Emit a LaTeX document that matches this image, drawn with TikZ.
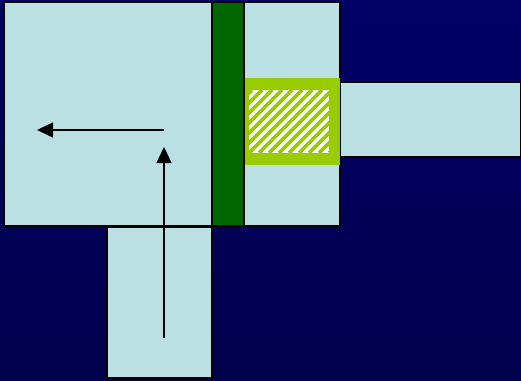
\documentclass[tikz,border=0pt]{standalone}
\usetikzlibrary{arrows.meta}
\definecolor{navytop}{HTML}{000066}
\definecolor{navybot}{HTML}{00004C}
\definecolor{paleblue}{HTML}{BBE0E3}
\definecolor{darkgreen}{HTML}{006600}
\definecolor{limegreen}{HTML}{99CC00}
\tikzset{
  box/.style={draw=black, line width=1.3pt, fill=paleblue},
  bar/.style={draw=black, line width=1.3pt, fill=darkgreen},
  flow/.style={draw=black, line width=1.5pt, -{Triangle[length=16pt,width=15pt]}}
}
\begin{document}
\begin{tikzpicture}[x=1pt,y=-1pt]
\useasboundingbox (0,0) rectangle (521,380);
\shade[top color=navytop, bottom color=navybot] (0,0) rectangle (521,380);
% main square
\path[box] (4,2) rectangle (340,226);
% bottom rectangle
\path[box] (107,227) rectangle (212,378);
% right rectangle
\path[box] (340,82) rectangle (521,157);
% dark green bar
\path[bar] (212,2) rectangle (244,226);
% lime frame
\fill[limegreen] (245,78) rectangle (340,165);
\fill[white] (249,90) rectangle (329,153);
\begin{scope}
\clip (249,90) rectangle (329,153);
\foreach \i in {-8,...,16} {
  \draw[limegreen, line width=3.6pt] ({249+\i*10},153) -- ({249+\i*10+63},90);
}
\end{scope}
% arrows
\coordinate (hs) at (164,130);
\coordinate (he) at (37,130);
\coordinate (vs) at (164,338);
\coordinate (ve) at (164,147);
\draw[flow] (hs) -- (he);
\draw[flow] (vs) -- (ve);
\end{tikzpicture}
\end{document}
